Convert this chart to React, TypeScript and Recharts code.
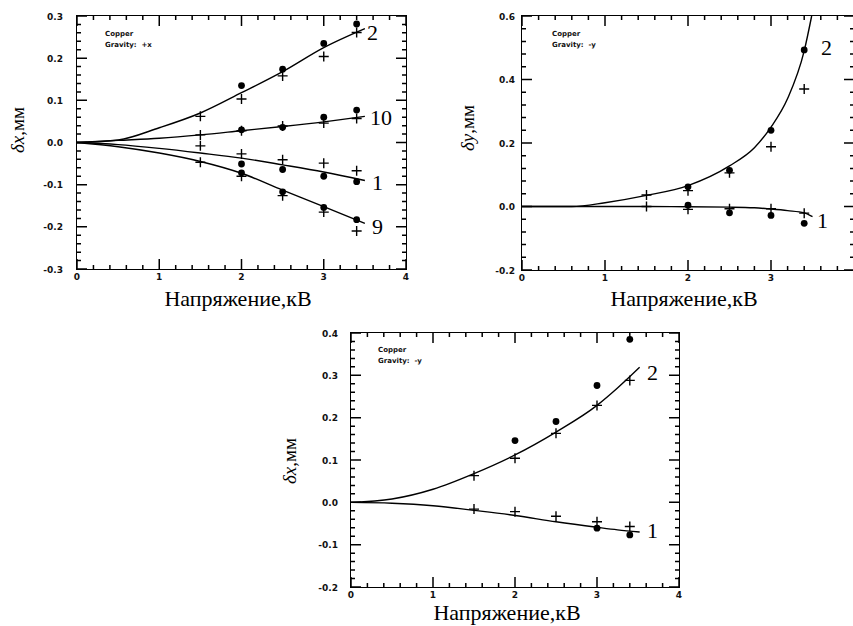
import { ComposedChart, Line, Scatter, XAxis, YAxis } from 'recharts'

// measurement voltages, kV
const volts = [1.5, 2, 2.5, 3, 3.4]
const voltsDots = [2, 2.5, 3, 3.4]

// δx, gravity +x
const fitVoltsA = [0, 0.5, 1, 1.5, 2, 2.5, 3, 3.5]
const fitA2 = [0, 0.006, 0.035, 0.07, 0.118, 0.168, 0.225, 0.27]
const fitA10 = [0, 0.005, 0.01, 0.018, 0.028, 0.038, 0.049, 0.062]
const fitA1 = [0, -0.005, -0.014, -0.025, -0.037, -0.053, -0.07, -0.09]
const fitA9 = [0, -0.01, -0.025, -0.045, -0.073, -0.113, -0.152, -0.192]
const dotsA2 = [0.135, 0.174, 0.235, 0.281]
const crossA2 = [0.062, 0.103, 0.158, 0.204, 0.261]
const dotsA10 = [0.03, 0.036, 0.06, 0.077]
const crossA10 = [0.018, 0.028, 0.039, 0.046, 0.057]
const dotsA1 = [-0.051, -0.064, -0.08, -0.093]
const crossA1 = [-0.008, -0.027, -0.041, -0.049, -0.067]
const dotsA9 = [-0.072, -0.117, -0.154, -0.183]
const crossA9 = [-0.047, -0.08, -0.126, -0.165, -0.21]

// δy, gravity -y
const fitVoltsB2 = [0, 0.6, 1, 1.5, 2, 2.5, 2.8, 3, 3.2, 3.4, 3.49]
const fitB2 = [0, 0, 0.012, 0.035, 0.066, 0.128, 0.185, 0.25, 0.34, 0.49, 0.6]
const fitVoltsB1 = [0, 1, 1.5, 2, 2.5, 2.8, 3, 3.2, 3.4, 3.5]
const fitB1 = [0, 0, 0, -0.001, -0.002, -0.004, -0.008, -0.013, -0.02, -0.032]
const dotsB2 = [0.062, 0.114, 0.24, 0.493]
const crossB2 = [0.036, 0.05, 0.106, 0.188, 0.37]
const dotsB1 = [0.004, -0.02, -0.028, -0.053]
const crossB1 = [0, -0.009, -0.007, -0.007, -0.021]

// δx, gravity -y
const fitVoltsC = [0, 0.5, 1, 1.5, 2, 2.5, 3, 3.25, 3.52]
const fitC2 = [0, 0.008, 0.031, 0.068, 0.112, 0.166, 0.229, 0.27, 0.319]
const fitC1 = [0, -0.002, -0.008, -0.019, -0.031, -0.046, -0.059, -0.065, -0.07]
const dotsC2 = [0.146, 0.191, 0.276, 0.385]
const crossC2 = [0.063, 0.104, 0.163, 0.229, 0.288]
const voltsDotsC1 = [3, 3.4]
const dotsC1 = [-0.061, -0.077]
const crossC1 = [-0.016, -0.022, -0.033, -0.046, -0.057]

// axis ticks
const xMajor = [0, 1, 2, 3, 4]
const yMajorA = [-0.3, -0.2, -0.1, 0, 0.1, 0.2, 0.3]
const yMajorB = [-0.2, 0, 0.2, 0.4, 0.6]
const yMajorC = [-0.2, -0.1, 0, 0.1, 0.2, 0.3, 0.4]

type Pt = { x: number; y: number }
const pts = (xs: number[], ys: number[]): Pt[] => xs.map((x, i) => ({ x, y: ys[i] }))

const steps = (lo: number, hi: number, step: number) => {
  const out: number[] = []
  const n = Math.round((hi - lo) / step)
  for (let i = 0; i <= n; i++) out.push(+(lo + i * step).toFixed(4))
  return out
}

const isMajor = (v: number, majors: number[]) => majors.some(m => Math.abs(m - v) < 1e-6)

const ML = 50, MR = 12, MT = 10, MB = 25
const PAGE_W = 853

const tickFont = { fontFamily: 'DejaVu Sans', fontWeight: 700, fontSize: 9, fill: '#111' }
const serif = '"Liberation Serif", "Times New Roman", serif'
const ink = '#000'

const Dot = (props: any) => <circle cx={props.cx} cy={props.cy} r={3.4} fill={ink} />
const Cross = (props: any) => (
  <path d={`M${props.cx - 5},${props.cy}H${props.cx + 5}M${props.cx},${props.cy - 5}V${props.cy + 5}`} stroke={ink} strokeWidth={1.4} fill="none" />
)

type PanelProps = {
  left: number; top: number; w: number; h: number
  yDomain: [number, number]; yMajor: number[]; yMinor: number; yGap: number
  fits: Pt[][]
  dots: Pt[][]
  crosses: Pt[][]
}

function Panel(p: PanelProps) {
  const W = p.w + ML + MR
  const H = p.h + MT + MB
  const xTicks = steps(0, 4, 0.2)
  const yTicks = steps(p.yDomain[0], p.yDomain[1], p.yMinor)

  // bottom axis: inward tick at bottom and top, number under majors
  const xTick = (props: any) => {
    const x = Number(props.x)
    const y = Number(props.y)
    const v = props.payload.value
    const major = isMajor(v, xMajor)
    const len = major ? 10 : 4
    const top = y - p.h
    const onPage = p.left - ML + x < PAGE_W - 6
    return (
      <g>
        <path d={`M${x},${y}V${y - len}M${x},${top}V${top + len}`} stroke={ink} strokeWidth={1.5} fill="none" />
        {major && onPage && <text x={x} y={y + 11} textAnchor="middle" style={tickFont}>{v}</text>}
      </g>
    )
  }

  // left axis: inward tick at left and right, number beside majors
  const yTick = (props: any) => {
    const x = Number(props.x)
    const y = Number(props.y)
    const v = props.payload.value
    const major = isMajor(v, p.yMajor)
    const len = major ? 10 : 4
    const right = x + p.w
    return (
      <g>
        <path d={`M${x},${y}H${x + len}M${right},${y}H${right - len}`} stroke={ink} strokeWidth={1.5} fill="none" />
        {major && <text x={x - p.yGap} y={y + 3.5} textAnchor="end" style={tickFont}>{v.toFixed(1)}</text>}
      </g>
    )
  }

  return (
    <div style={{ position: 'absolute', left: p.left - ML, top: p.top - MT }}>
      <ComposedChart width={W} height={H} margin={{ top: MT, right: MR, bottom: 0, left: 0 }}>
        <XAxis type="number" dataKey="x" domain={[0, 4]} ticks={xTicks} interval={0}
          height={MB} tickSize={0} tickMargin={0} axisLine={false} tickLine={false} tick={xTick} />
        <YAxis type="number" dataKey="y" domain={p.yDomain} ticks={yTicks} interval={0}
          width={ML} tickSize={0} tickMargin={0} axisLine={false} tickLine={false} tick={yTick} />
        {p.fits.map((d, i) => (
          <Line key={'f' + i} data={d} dataKey="y" type="monotone" stroke={ink} strokeWidth={1.4} dot={false} isAnimationActive={false} />
        ))}
        {p.dots.map((d, i) => (
          <Scatter key={'d' + i} data={d} dataKey="y" shape={Dot} isAnimationActive={false} />
        ))}
        {p.crosses.map((d, i) => (
          <Scatter key={'c' + i} data={d} dataKey="y" shape={Cross} isAnimationActive={false} />
        ))}
      </ComposedChart>
    </div>
  )
}

// plot box, laid over the chart
function Frame(p: PanelProps) {
  return (
    <div style={{
      position: 'absolute', left: p.left - 1, top: p.top - 1, width: p.w, height: p.h,
      border: '1.5px solid #000', zIndex: 5, pointerEvents: 'none',
    }} />
  )
}

const abs = (left: number, top: number, extra: React.CSSProperties = {}): React.CSSProperties => ({
  position: 'absolute', left, top, whiteSpace: 'nowrap', lineHeight: 1, ...extra,
})

const legendStyle: React.CSSProperties = { fontFamily: 'DejaVu Sans', fontWeight: 700, fontSize: 7, color: '#111', lineHeight: '11px' }
const curveNum: React.CSSProperties = { fontFamily: serif, fontSize: 22, color: '#000' }
const xTitle: React.CSSProperties = { fontFamily: serif, fontSize: 22, color: '#000', transform: 'translate(-50%, -50%)' }
const yTitle: React.CSSProperties = { fontFamily: serif, fontSize: 19, color: '#000', transform: 'translate(-50%, -50%) rotate(-90deg)' }

function Legend({ left, top, gravity }: { left: number; top: number; gravity: string }) {
  return (
    <div style={{ ...abs(left, top), ...legendStyle }}>
      <div>Copper</div>
      <div>Gravity:&nbsp;&nbsp;{gravity}</div>
    </div>
  )
}

const panelA: PanelProps = {
  left: 77, top: 16, w: 329, h: 253, yDomain: [-0.3, 0.3], yMajor: yMajorA, yMinor: 0.02, yGap: 14,
  fits: [pts(fitVoltsA, fitA2), pts(fitVoltsA, fitA10), pts(fitVoltsA, fitA1), pts(fitVoltsA, fitA9)],
  dots: [pts(voltsDots, dotsA2), pts(voltsDots, dotsA10), pts(voltsDots, dotsA1), pts(voltsDots, dotsA9)],
  crosses: [pts(volts, crossA2), pts(volts, crossA10), pts(volts, crossA1), pts(volts, crossA9)],
}
const panelB: PanelProps = {
  left: 522, top: 16, w: 332, h: 254, yDomain: [-0.2, 0.6], yMajor: yMajorB, yMinor: 0.04, yGap: 7,
  fits: [pts(fitVoltsB2, fitB2), pts(fitVoltsB1, fitB1)],
  dots: [pts(voltsDots, dotsB2), pts(voltsDots, dotsB1)],
  crosses: [pts(volts, crossB2), pts(volts, crossB1)],
}
const panelC: PanelProps = {
  left: 351, top: 333, w: 328, h: 254, yDomain: [-0.2, 0.4], yMajor: yMajorC, yMinor: 0.02, yGap: 13,
  fits: [pts(fitVoltsC, fitC2), pts(fitVoltsC, fitC1)],
  dots: [pts(voltsDots, dotsC2), pts(voltsDotsC1, dotsC1)],
  crosses: [pts(volts, crossC2), pts(volts, crossC1)],
}

export default function App() {
  return (
    <div style={{ position: 'absolute', left: 0, top: 0, width: 853, height: 626, overflow: 'hidden' }}>
      <Panel {...panelA} />
      <Panel {...panelB} />
      <Panel {...panelC} />

      <Legend left={105} top={29} gravity="+x" />
      <Legend left={552} top={29} gravity="-y" />
      <Legend left={378} top={345} gravity="-y" />

      <div style={abs(367, 22, curveNum)}>2</div>
      <div style={abs(370, 107, curveNum)}>10</div>
      <div style={abs(372, 172, curveNum)}>1</div>
      <div style={abs(372, 216, curveNum)}>9</div>
      <div style={abs(821, 37, curveNum)}>2</div>
      <div style={abs(817, 210, curveNum)}>1</div>
      <div style={abs(647, 362, curveNum)}>2</div>
      <div style={abs(647, 520, curveNum)}>1</div>

      <div style={abs(238, 299, xTitle)}>Напряжение,кВ</div>
      <div style={abs(684, 299, xTitle)}>Напряжение,кВ</div>
      <div style={abs(507, 613, xTitle)}>Напряжение,кВ</div>

      <div style={abs(17, 130, yTitle)}><i>δx</i>,мм</div>
      <div style={abs(467, 128, yTitle)}><i>δy</i>,мм</div>
      <div style={abs(289, 461, yTitle)}><i>δx</i>,мм</div>

      <Frame {...panelA} />
      <Frame {...panelB} />
      <Frame {...panelC} />
    </div>
  )
}
